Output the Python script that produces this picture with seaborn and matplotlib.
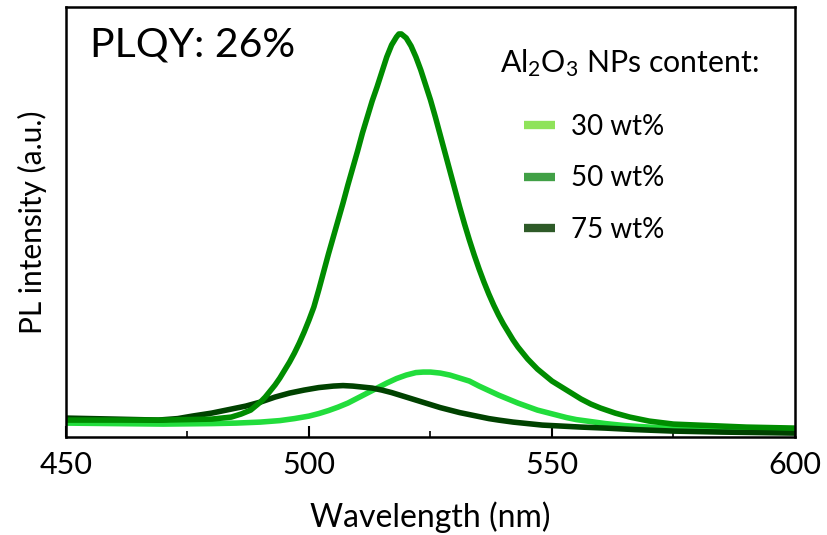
import numpy as np
import pandas as pd
import matplotlib
matplotlib.use('Agg')
import matplotlib.pyplot as plt
import seaborn as sns
from matplotlib.lines import Line2D

# Data =========================================================================
wl_30 = [450, 460, 470, 480, 485, 490, 494, 497, 500, 502, 504, 506, 508, 510,
         512, 514, 516, 518, 520, 522, 523.5, 525, 527, 529, 531, 533, 535,
         537, 539, 541, 543, 545, 547, 549, 551, 553, 555, 558, 561, 565, 570,
         575, 585, 600]
pl_30 = [14, 13.5, 13, 13.5, 14, 15, 16.5, 18.5, 21, 23.5, 26.5, 30, 34, 39,
         44, 49, 54, 58.5, 62, 64.5, 65, 65, 64, 62, 59, 56, 51, 46.5, 42, 38,
         34, 30.5, 27, 24.5, 22, 19.5, 17.5, 15.5, 13.5, 11.5, 10, 9, 8.5, 8]

wl_50 = [450, 460, 470, 480, 482, 484, 486, 488, 489, 490, 491, 492, 493, 494,
         495, 496, 497, 498, 499, 500, 501, 502, 503, 504, 505, 506, 507, 508,
         509, 510, 511, 512, 513, 514, 515, 516, 517, 518, 518.5, 519, 520,
         521, 522, 523, 524, 525, 526, 527, 528, 529, 530, 531, 532, 533, 534,
         535, 536, 537, 538, 539, 540, 541, 542, 543, 544, 545, 546, 547, 548,
         549, 550, 552, 554, 556, 558, 560, 563, 566, 570, 575, 580, 585, 590,
         595, 600]
pl_50 = [17, 17, 17, 18, 19, 20, 23, 27, 31, 35, 40, 46, 52, 59, 67, 75, 84,
         94, 105, 117, 130, 147, 165, 183, 200, 217, 234, 252, 269, 286, 304,
         320, 336, 350, 365, 380, 392, 400, 403, 403, 399, 391, 380, 367, 352,
         337, 320, 302, 284, 266, 248, 230, 213, 197, 182, 168, 155, 143, 132,
         122, 113, 105, 97, 90, 84, 78, 73, 68, 64, 60, 56, 50, 44, 38, 33, 29,
         24, 20, 16, 13, 12, 11, 10, 9.5, 9]

wl_75 = [450, 460, 469, 473, 476, 480, 483, 487, 490, 493, 496, 499, 502, 505,
         507, 509, 511, 513, 515, 517, 519, 521, 523, 525, 527, 529, 531, 533,
         535, 537, 539, 542, 545, 548, 552, 556, 561, 567, 575, 585, 600]
pl_75 = [19, 18, 17, 18.5, 21, 24, 27, 31, 35, 40, 44, 47, 49.5, 51, 51.5, 51,
         50, 49, 47, 44.5, 41.5, 38.5, 35.5, 32.5, 29.5, 27, 24.5, 22.5, 20.5,
         18.5, 17, 15, 13.5, 12, 11, 10, 9, 7.5, 6, 5, 4]

labels = ['30 wt%', '50 wt%', '75 wt%']
line_colors = ['#22dd3c', '#008c00', '#004200']
legend_colors = ['#8fe35a', '#41a046', '#2e5a28']

df = pd.concat([
    pd.DataFrame({'wl': wl_30, 'pl': pl_30, 'content': labels[0]}),
    pd.DataFrame({'wl': wl_50, 'pl': pl_50, 'content': labels[1]}),
    pd.DataFrame({'wl': wl_75, 'pl': pl_75, 'content': labels[2]}),
])

# Style ========================================================================
sns.set_style('white')
plt.rcParams['font.family'] = ['Lato', 'DejaVu Sans']
plt.rcParams['mathtext.fontset'] = 'custom'
plt.rcParams['mathtext.rm'] = 'Lato'
plt.rcParams['mathtext.it'] = 'Lato'
plt.rcParams['text.color'] = 'black'
plt.rcParams['axes.labelcolor'] = 'black'
plt.rcParams['xtick.color'] = 'black'

fig = plt.figure(figsize=(8.27, 5.35), dpi=100)
ax = fig.add_axes([0.0798, 0.183, 0.8815, 0.804])

# draw order: 30, 75, then 50 on top
sns.lineplot(data=df, x='wl', y='pl', hue='content',
             hue_order=[labels[0], labels[2], labels[1]],
             palette=dict(zip(labels, line_colors)), linewidth=4.0,
             legend=False, ax=ax, sort=False)

ax.set_xlim(450, 600)
ax.set_ylim(0, 430)
ax.set_yticks([])
ax.set_xticks([450, 500, 550, 600])
ax.set_xticks([475, 525, 575], minor=True)
ax.tick_params(axis='x', which='major', direction='in', length=8, width=1.5,
               labelsize=22, pad=10, bottom=True, colors='black')
ax.tick_params(axis='x', which='minor', direction='in', length=4, width=1.2,
               bottom=True, colors='black')
for s in ax.spines.values():
    s.set_linewidth(1.8)
    s.set_color('black')

ax.set_xlabel('Wavelength (nm)', fontsize=23, labelpad=16)
ax.set_ylabel('PL intensity (a.u.)', fontsize=21.5, labelpad=14)

ax.text(0.033, 0.955, 'PLQY: 26%', transform=ax.transAxes, fontsize=29.5,
        va='top', ha='left')

# legend title and entries ====================================================
W, H = 827, 535
fig.text(500 / W, 1 - 72 / H, 'Al$_2$O$_3$ NPs content:', fontsize=21.8,
         va='baseline', ha='left')

handles = [Line2D([0], [0], color=c, lw=6, solid_capstyle='butt')
           for c in legend_colors]
leg = ax.legend(handles, labels, loc='upper left',
                bbox_to_anchor=(524 / W, 1 - 114 / H),
                bbox_transform=fig.transFigure,
                frameon=False, fontsize=20, handlelength=1.1,
                handletextpad=0.6, labelspacing=0.91, borderpad=0,
                borderaxespad=0)
for t in leg.get_texts():
    t.set_color('black')

fig.savefig('out.png', dpi=100)
